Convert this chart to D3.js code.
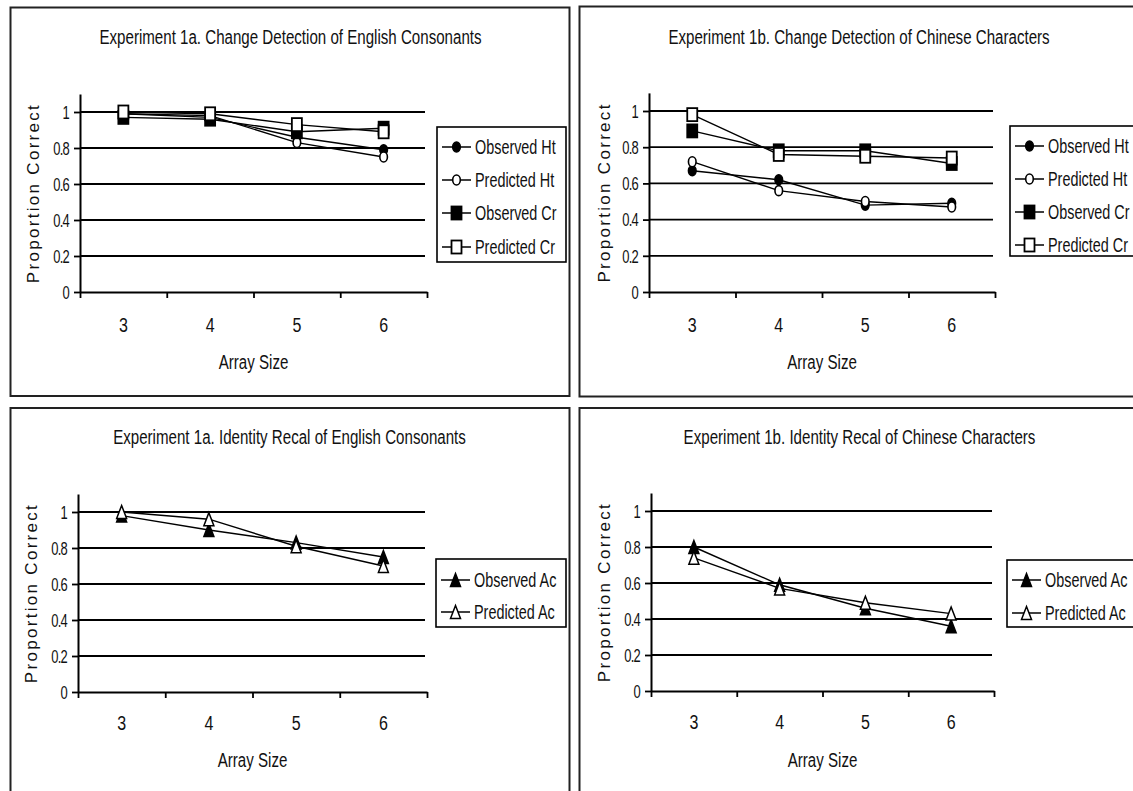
<!DOCTYPE html>
<html>
<head>
<meta charset="utf-8">
<script src="https://cdn.jsdelivr.net/npm/d3@7/dist/d3.min.js"></script>
<style>
  html, body { margin: 0; padding: 0; background: #fff; }
  svg { display: block; }
  text { font-family: "Liberation Sans", Arial, sans-serif; fill: #111; }
</style>
</head>
<body>
<svg id="chart" width="1133" height="791"></svg>
<script>
// ---- data ----------------------------------------------------------------
const arraySizes = [3, 4, 5, 6];
const yTickValues = [0, 0.2, 0.4, 0.6, 0.8, 1];

// Experiment 1a, change detection (English consonants)
const cd1aObservedHt  = [0.99, 0.97, 0.86, 0.79];
const cd1aPredictedHt = [0.99, 0.98, 0.83, 0.75];
const cd1aObservedCr  = [0.97, 0.96, 0.89, 0.91];
const cd1aPredictedCr = [1.00, 0.99, 0.93, 0.89];

// Experiment 1b, change detection (Chinese characters)
const cd1bObservedHt  = [0.67, 0.62, 0.48, 0.49];
const cd1bPredictedHt = [0.72, 0.56, 0.50, 0.47];
const cd1bObservedCr  = [0.89, 0.78, 0.78, 0.71];
const cd1bPredictedCr = [0.98, 0.76, 0.75, 0.74];

// Experiment 1a, identity recall (English consonants)
const ir1aObservedAc  = [0.98, 0.90, 0.83, 0.75];
const ir1aPredictedAc = [1.00, 0.96, 0.81, 0.70];

// Experiment 1b, identity recall (Chinese characters)
const ir1bObservedAc  = [0.80, 0.59, 0.46, 0.36];
const ir1bPredictedAc = [0.74, 0.57, 0.49, 0.43];

const titles = [
  "Experiment 1a. Change Detection of English Consonants",
  "Experiment 1b. Change Detection of Chinese Characters",
  "Experiment 1a. Identity Recal of English Consonants",
  "Experiment 1b. Identity Recal of Chinese Characters"
];
const xAxisTitle = "Array Size";
const yAxisTitle = "Proportion Correct";

// ---- layout --------------------------------------------------------------
const panels = [
  {
    title: titles[0],
    frame: [10.5, 7.5, 569.5, 396],
    plot: { x0: 80, x1: 427, yZero: 292, yOne: 112 },
    titleY: 37, xLabelY: 362, xTickY: 325, yLabelX: 33,
    legend: { x: 437, y: 127, w: 129, h: 135, rows: [147, 180, 213, 247] },
    series: [
      { name: "Observed Ht",  values: cd1aObservedHt,  shape: "circle", filled: true },
      { name: "Predicted Ht", values: cd1aPredictedHt, shape: "circle", filled: false },
      { name: "Observed Cr",  values: cd1aObservedCr,  shape: "square", filled: true },
      { name: "Predicted Cr", values: cd1aPredictedCr, shape: "square", filled: false }
    ]
  },
  {
    title: titles[1],
    frame: [579.5, 6.5, 1145, 396.5],
    plot: { x0: 649, x1: 995, yZero: 292, yOne: 111 },
    titleY: 37, xLabelY: 362, xTickY: 325, yLabelX: 604,
    legend: { x: 1010, y: 126, w: 140, h: 130, rows: [146, 179, 212, 245] },
    series: [
      { name: "Observed Ht",  values: cd1bObservedHt,  shape: "circle", filled: true },
      { name: "Predicted Ht", values: cd1bPredictedHt, shape: "circle", filled: false },
      { name: "Observed Cr",  values: cd1bObservedCr,  shape: "square", filled: true },
      { name: "Predicted Cr", values: cd1bPredictedCr, shape: "square", filled: false }
    ]
  },
  {
    title: titles[2],
    frame: [10.5, 408, 569.5, 800],
    plot: { x0: 78, x1: 427, yZero: 692, yOne: 512 },
    titleY: 437, xLabelY: 760, xTickY: 723, yLabelX: 31,
    legend: { x: 436, y: 559, w: 130, h: 68, rows: [580, 612] },
    series: [
      { name: "Observed Ac",  values: ir1aObservedAc,  shape: "triangle", filled: true },
      { name: "Predicted Ac", values: ir1aPredictedAc, shape: "triangle", filled: false }
    ]
  },
  {
    title: titles[3],
    frame: [579.5, 408, 1145, 800],
    plot: { x0: 651, x1: 994, yZero: 691, yOne: 511 },
    titleY: 437, xLabelY: 760, xTickY: 722, yLabelX: 604,
    legend: { x: 1007, y: 560, w: 140, h: 67, rows: [580, 613] },
    series: [
      { name: "Observed Ac",  values: ir1bObservedAc,  shape: "triangle", filled: true },
      { name: "Predicted Ac", values: ir1bPredictedAc, shape: "triangle", filled: false }
    ]
  }
];

const svg = d3.select("#chart");
svg.append("rect").attr("width", 1133).attr("height", 791).attr("fill", "#fff");

// condensed, tall lettering
function label(g, x, y, str, opt) {
  const o = Object.assign({ size: 20, sx: 0.72, anchor: "middle", rotate: false, ls: 0 }, opt);
  return g.append("text")
    .attr("transform", `translate(${x},${y}) scale(${o.sx},1)` + (o.rotate ? " rotate(-90)" : ""))
    .attr("font-size", o.size)
    .attr("text-anchor", o.anchor)
    .attr("dominant-baseline", "central")
    .attr("letter-spacing", o.ls)
    .text(str);
}

// marker drawing (slightly taller than wide)
function marker(g, cx, cy, shape, filled) {
  const fill = filled ? "#000" : "#fff";
  if (shape === "circle") {
    g.append("ellipse").attr("cx", cx).attr("cy", cy).attr("rx", 3.8).attr("ry", 5)
      .attr("fill", fill).attr("stroke", "#000").attr("stroke-width", 1.6);
  } else if (shape === "square") {
    g.append("rect").attr("x", cx - 5).attr("y", cy - 6.5).attr("width", 10).attr("height", 13)
      .attr("fill", fill).attr("stroke", "#000").attr("stroke-width", 1.8);
  } else {
    const w = 5, h = 6.5;
    g.append("path").attr("d", `M${cx},${cy - h}L${cx + w},${cy + h}L${cx - w},${cy + h}Z`)
      .attr("fill", fill).attr("stroke", "#000").attr("stroke-width", 1.5)
      .attr("stroke-linejoin", "miter");
  }
}

panels.forEach(p => {
  const g = svg.append("g");
  const [fx0, fy0, fx1, fy1] = p.frame;
  g.append("rect").attr("x", fx0).attr("y", fy0).attr("width", fx1 - fx0).attr("height", fy1 - fy0)
    .attr("fill", "#fff").attr("stroke", "#222").attr("stroke-width", 2);

  const unit = p.plot.yZero - p.plot.yOne;
  const y = d3.scaleLinear().domain([0, 1.1]).range([p.plot.yZero, p.plot.yZero - 1.1 * unit]);
  const xBand = d3.scaleBand().domain(arraySizes).range([p.plot.x0, p.plot.x1]).paddingInner(0).paddingOuter(0);
  const xEdge = d3.scaleLinear().domain([0, arraySizes.length]).range([p.plot.x0, p.plot.x1]);
  const xc = d => xBand(d) + xBand.bandwidth() / 2;

  // horizontal gridlines
  g.append("g").selectAll("line").data(yTickValues.filter(v => v > 0)).join("line")
    .attr("x1", p.plot.x0).attr("x2", p.plot.x1 - 2)
    .attr("y1", d => y(d)).attr("y2", d => y(d))
    .attr("stroke", "#000").attr("stroke-width", 1.8);

  // y axis
  const yAxis = g.append("g").attr("transform", `translate(${p.plot.x0},0)`)
    .call(d3.axisLeft(y).tickValues(yTickValues).tickSize(6).tickSizeOuter(0)
      .tickFormat(d => String(+d.toFixed(1))));
  yAxis.select(".domain").attr("stroke", "#000").attr("stroke-width", 2);
  yAxis.selectAll(".tick line").attr("stroke", "#000").attr("stroke-width", 1.8);
  yAxis.selectAll(".tick text")
    .attr("x", null).attr("dy", null)
    .attr("transform", "translate(-11,0) scale(0.72,1)")
    .attr("dominant-baseline", "central")
    .attr("font-size", 18).attr("letter-spacing", -1)
    .attr("font-family", "Liberation Sans, Arial, sans-serif").attr("fill", "#111");

  // x axis: ticks between categories, labels at category centres
  const xAxis = g.append("g").attr("transform", `translate(0,${p.plot.yZero})`)
    .call(d3.axisBottom(xEdge).tickValues(d3.range(arraySizes.length + 1)).tickSize(6).tickSizeOuter(0).tickFormat(""));
  xAxis.select(".domain").attr("stroke", "#000").attr("stroke-width", 2);
  xAxis.selectAll(".tick line").attr("stroke", "#000").attr("stroke-width", 1.8);
  arraySizes.forEach(d => label(g, xc(d), p.xTickY, String(d), { size: 20, sx: 0.8 }));

  // titles
  label(g, (p.plot.x0 + p.plot.x1) / 2 + 37, p.titleY, p.title, { size: 21, sx: 0.72 });
  label(g, (p.plot.x0 + p.plot.x1) / 2, p.xLabelY, xAxisTitle, { size: 21, sx: 0.72 });
  label(g, p.yLabelX, (p.plot.yZero + y(1.1)) / 2, yAxisTitle, { size: 17, sx: 1, rotate: true, ls: 2.3 });

  // series
  const line = d3.line().x((v, i) => xc(arraySizes[i])).y(v => y(v));
  p.series.forEach(s => {
    g.append("path").attr("d", line(s.values)).attr("fill", "none")
      .attr("stroke", "#000").attr("stroke-width", 1.4);
    s.values.forEach((v, i) => marker(g, xc(arraySizes[i]), y(v), s.shape, s.filled));
  });

  // legend
  const L = p.legend;
  g.append("rect").attr("x", L.x).attr("y", L.y).attr("width", L.w).attr("height", L.h)
    .attr("fill", "#fff").attr("stroke", "#000").attr("stroke-width", 1.6);
  p.series.forEach((s, i) => {
    const ry = L.rows[i];
    g.append("line").attr("x1", L.x + 5).attr("x2", L.x + 34).attr("y1", ry).attr("y2", ry)
      .attr("stroke", "#000").attr("stroke-width", 1.5);
    marker(g, L.x + 19.5, ry, s.shape, s.filled);
    label(g, L.x + 38, ry, s.name, { size: 20, sx: 0.72, anchor: "start" });
  });
});
</script>
</body>
</html>
